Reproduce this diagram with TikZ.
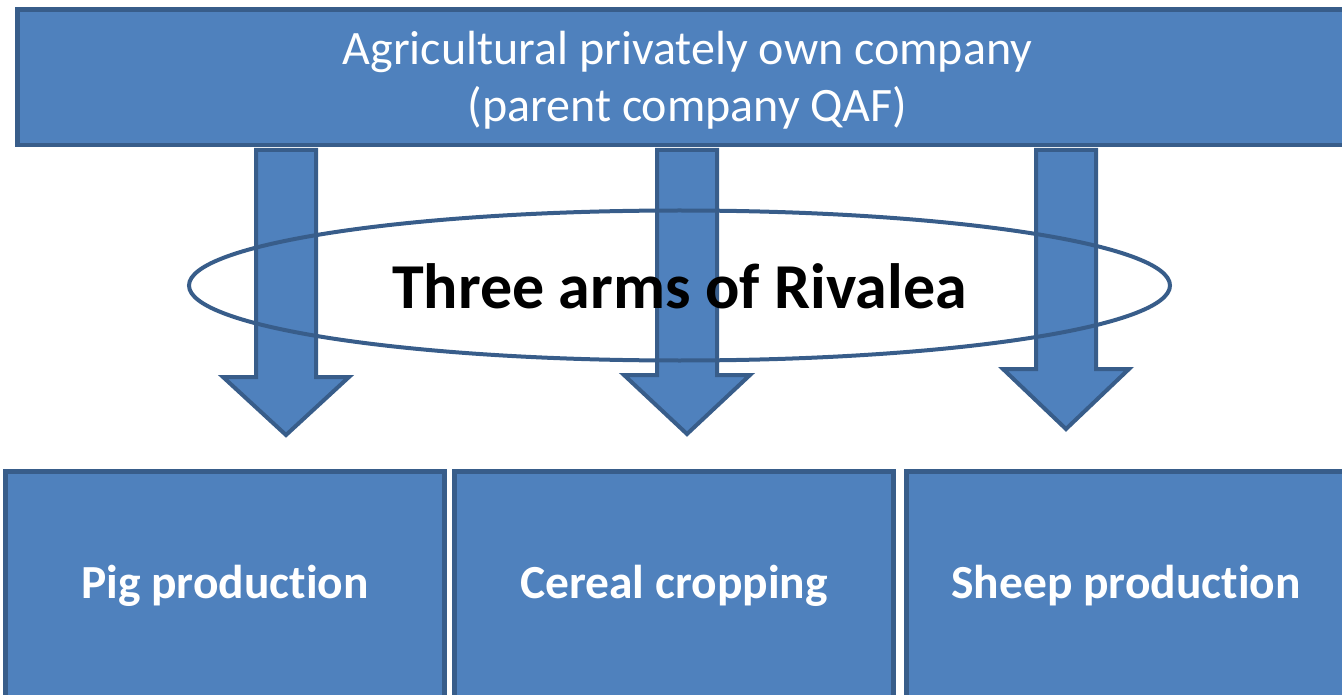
\documentclass[tikz,border=0pt]{standalone}
\usepackage{fontspec}
\setmainfont[RawFeature={-liga;-clig;-calt;-dlig}]{Carlito}
\usetikzlibrary{shapes.geometric}
\definecolor{boxfill}{HTML}{4F81BD}
\definecolor{boxline}{HTML}{385D8A}
\tikzset{
  bluebox/.style={draw=boxline, fill=boxfill, line width=4.5pt, inner sep=0pt, text=white, align=center},
  arrowbody/.style={draw=boxline, fill=boxfill, line width=4pt, line join=miter},
  pics/blockarr/.style args={#1/#2}{code={
    \draw[arrowbody] (-30,0) -- (-30,#1) -- (-63,#1) -- (0,#2) -- (63,#1) -- (30,#1) -- (30,0) -- cycle;
  }},
  armbox/.style={bluebox, minimum width=439pt, minimum height=229pt, font=\bfseries\fontsize{47.5}{54}\selectfont}
}
\begin{document}
\begin{tikzpicture}[x=1pt,y=-1pt]
\useasboundingbox (0,0) rectangle (1342,695);
\clip (0,0) rectangle (1342,695);
% block arrows
\pic at (286,150) {blockarr={227/285}};
\pic at (687,150) {blockarr={225/284}};
\pic at (1066,150) {blockarr={219/279}};
% parent company box
\node[bluebox, minimum width=1340pt, minimum height=135.5pt] (parent) at (687.5,77.25) {};
\node[text=white, align=center, inner sep=0pt, font=\fontsize{48}{57}\selectfont] (parenttext) at (687.5,80.5)
  {Agricultural privately own company\\(parent company QAF)};
% ring and title
\node[ellipse, draw=boxline, line width=4pt, minimum width=981pt, minimum height=150pt, inner sep=0pt] (ring) at (679.5,285.5) {};
\node[font=\bfseries\fontsize{64}{72}\selectfont, inner sep=0pt] (arms) at (679.5,286) {Three arms of Rivalea};
% arms
\node[armbox] (pig) at (225,586) {Pig produc\kern0pt tion};
\node[armbox] (cereal) at (674,586) {Cereal cropping};
\node[armbox] (sheep) at (1126,586) {Sheep produc\kern0pt tion};
\end{tikzpicture}
\end{document}
